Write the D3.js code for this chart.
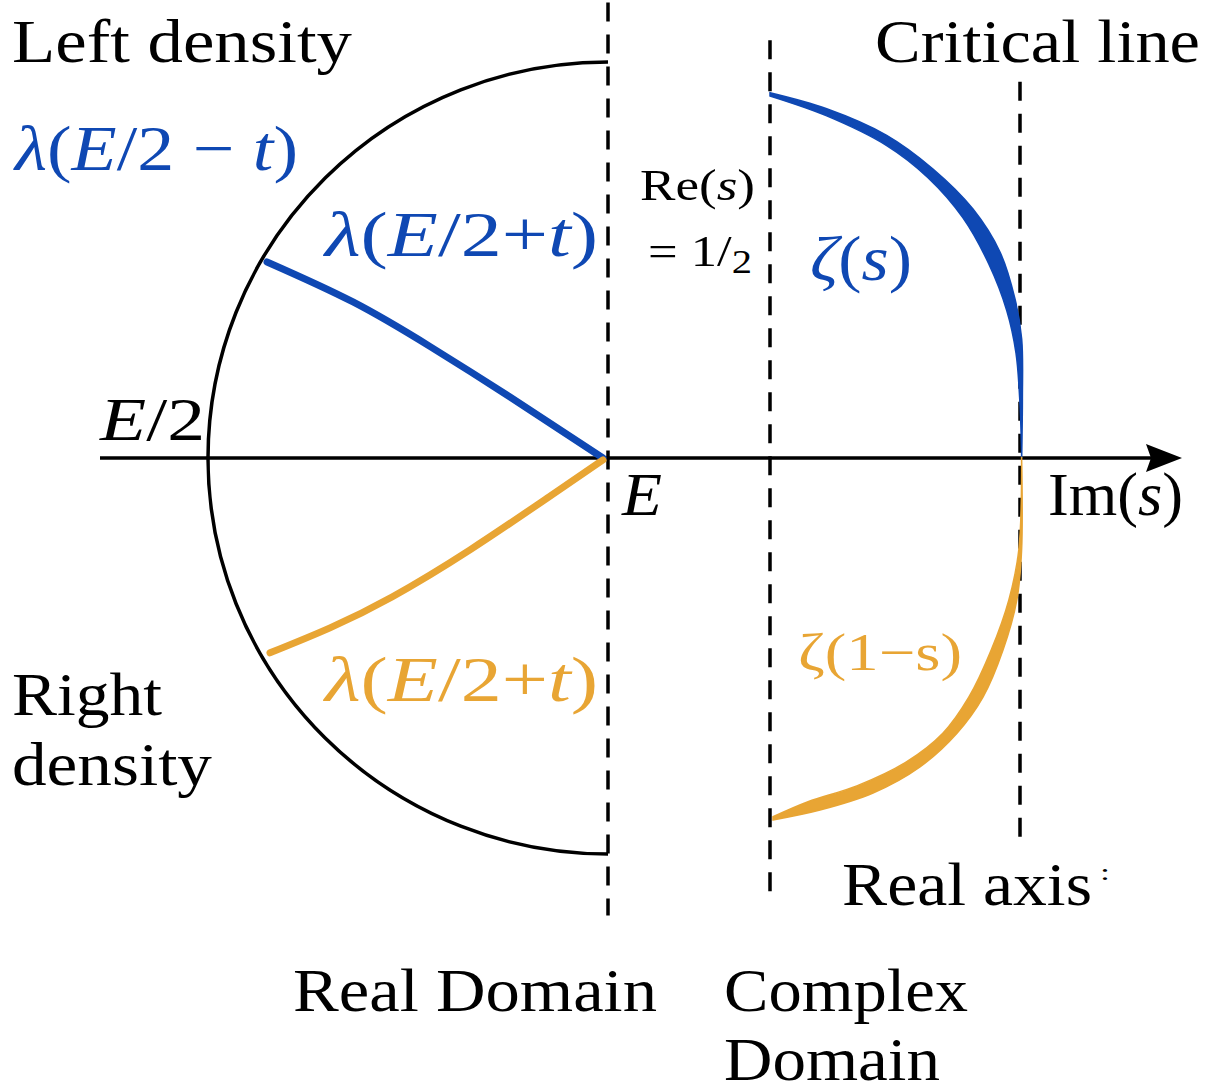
<!DOCTYPE html>
<html>
<head>
<meta charset="utf-8">
<script src="https://cdn.jsdelivr.net/npm/d3@7"></script>
<style>
  html, body { margin: 0; padding: 0; background: #fff; }
  svg { display: block; }
</style>
</head>
<body>
<svg id="chart"></svg>
<script>
// diagram units: E sits at x = 0, E/2 at x = -1; the real axis is y = 0
const dashedLines = [
  { x: 0,     y0: 1.15,  y1: -1.155 },   // E
  { x: 0.405, y0: 1.055, y1: -1.105 },   // Re(s) = 1/2
  { x: 1.03,  y0: 0.95,  y1: -0.965 }    // critical line
];
const axisRange = [-1.27, 1.435];

const lambdaMinus = [[-0.8525, 0.495], [-0.6375, 0.394], [-0.4425, 0.28], [-0.245, 0.154], [-0.0125, 0]];
const lambdaPlus  = [[-0.845, -0.492], [-0.695, -0.429], [-0.54, -0.351], [-0.345, -0.232], [-0.1475, -0.098], [-0.0125, -0.005]];

const zetaOuter = [[0.405, 0.9225], [0.5467, 0.8821], [0.6967, 0.8149], [0.8125, 0.7298], [0.9125, 0.6288], [0.98, 0.5202], [1.0175, 0.4015], [1.0342, 0.3005], [1.036, 0.15], [1.0342, 0]];
const zetaInner = [[0.405, 0.9141], [0.5467, 0.864], [0.6967, 0.789], [0.80, 0.708], [0.887, 0.607], [0.952, 0.49], [0.997, 0.372], [1.02, 0.265], [1.03, 0.135], [1.0342, 0]];

const zeta1Outer = [[1.034, 0.003], [1.034, -0.232], [1.022, -0.359], [0.9875, -0.485], [0.9375, -0.604], [0.8725, -0.695], [0.78, -0.78], [0.6625, -0.846], [0.53, -0.889], [0.4125, -0.914]];
const zeta1Inner = [[1.034, 0.003], [1.027, -0.232], [1.002, -0.359], [0.958, -0.485], [0.902, -0.604], [0.837, -0.695], [0.745, -0.768], [0.622, -0.828], [0.5, -0.868], [0.4125, -0.906]];

const W = 1216, H = 1092;
const blue = "#0f48b3", orange = "#e8a534";

const svg = d3.select("#chart").attr("width", W).attr("height", H);
svg.append("rect").attr("width", W).attr("height", H).attr("fill", "#fff");

const x = d3.scaleLinear().domain([-1, 0]).range([208, 608]);
const y = d3.scaleLinear().domain([-1, 1]).range([854, 62]);

const line = d3.line().x(d => x(d[0])).y(d => y(d[1])).curve(d3.curveNatural);
const edge = d3.line().x(d => x(d[0])).y(d => y(d[1])).curve(d3.curveCatmullRom.alpha(0.5));

// dashed verticals
svg.append("g")
    .attr("stroke", "#000")
    .attr("stroke-width", 3.5)
    .attr("stroke-dasharray", "19,13")
    .selectAll("line")
    .data(dashedLines)
    .join("line")
    .attr("x1", d => x(d.x)).attr("x2", d => x(d.x))
    .attr("y1", d => y(d.y0)).attr("y2", d => y(d.y1));

// density semicircle
const rx = x(0) - x(-1), ry = y(-1) - y(0);
svg.append("path")
    .attr("fill", "none")
    .attr("stroke", "#000")
    .attr("stroke-width", 3.5)
    .attr("d", `M${x(0)},${y(1)} A${rx},${ry} 0 0 0 ${x(0)},${y(-1)}`);

// real axis with arrow
svg.append("line")
    .attr("x1", x(axisRange[0])).attr("x2", x(axisRange[1]) - 20)
    .attr("y1", y(0)).attr("y2", y(0))
    .attr("stroke", "#000").attr("stroke-width", 3.5);
const tip = x(axisRange[1]);
svg.append("path")
    .attr("fill", "#000")
    .attr("d", `M${tip},${y(0)} L${tip - 36},${y(0) - 14} L${tip - 31},${y(0)} L${tip - 36},${y(0) + 14} Z`);

// lambda curves
svg.append("path").attr("d", line(lambdaMinus))
    .attr("fill", "none").attr("stroke", blue).attr("stroke-width", 7).attr("stroke-linecap", "round");
svg.append("path").attr("d", line(lambdaPlus))
    .attr("fill", "none").attr("stroke", orange).attr("stroke-width", 7).attr("stroke-linecap", "round");

// zeta crescents
const crescent = (outer, inner) => edge(outer) + "L" + edge(inner.slice().reverse()).slice(1) + "Z";
svg.append("path").attr("d", crescent(zetaOuter, zetaInner)).attr("fill", blue).attr("stroke", blue).attr("stroke-width", 1.5);
svg.append("path").attr("d", crescent(zeta1Outer, zeta1Inner)).attr("fill", orange).attr("stroke", orange).attr("stroke-width", 1.5);

// labels
const font = "'Liberation Serif', 'Times New Roman', serif";
function label(parts, px, py, len, size, color) {
    const t = svg.append("text")
        .attr("x", px).attr("y", py)
        .attr("font-family", font)
        .attr("font-size", size)
        .attr("fill", color || "#000")
        .attr("textLength", len)
        .attr("lengthAdjust", "spacingAndGlyphs");
    parts.forEach(p => {
        const s = t.append("tspan").text(p.t);
        if (p.i) s.attr("font-style", "italic");
        if (p.dy) s.attr("dy", p.dy);
        if (p.fs) s.attr("font-size", p.fs);
    });
    return t;
}
const it = s => ({ t: s, i: true });
const rm = s => ({ t: s });

label([rm("Left density")], 12, 62, 340, 61);
label([rm("Critical line")], 875, 62, 325, 61);
label([it("λ"), rm("("), it("E"), rm("/2 − "), it("t"), rm(")")], 15, 170, 283, 64, blue);
label([it("λ"), rm("("), it("E"), rm("/2+"), it("t"), rm(")")], 325, 256, 273, 64, blue);
label([rm("Re("), it("s"), rm(")")], 640, 200, 115, 45);
label([rm("= 1/"), { t: "2", dy: 7, fs: 34 }], 648, 266, 104, 44);
label([it("ζ"), rm("("), it("s"), rm(")")], 810, 280, 102, 64, blue);
label([it("E"), rm("/2")], 100, 440, 105, 61);
label([it("E")], 622, 515, 40, 61);
label([rm("Im("), it("s"), rm(")")], 1048, 515, 135, 61);
label([it("λ"), rm("("), it("E"), rm("/2+"), it("t"), rm(")")], 325, 701, 273, 64, orange);
label([rm("ζ(1−s)")], 798, 670, 164, 52, orange);
label([rm("Right")], 12, 715, 150, 61);
label([rm("density")], 12, 785, 200, 61);
label([rm("Real axis")], 842, 905, 250, 61);
label([rm(":")], 1100, 880, 10, 24);
label([rm("Real Domain")], 293, 1011, 364, 61);
label([rm("Complex")], 724, 1011, 244, 61);
label([rm("Domain")], 724, 1080, 216, 61);
</script>
</body>
</html>
